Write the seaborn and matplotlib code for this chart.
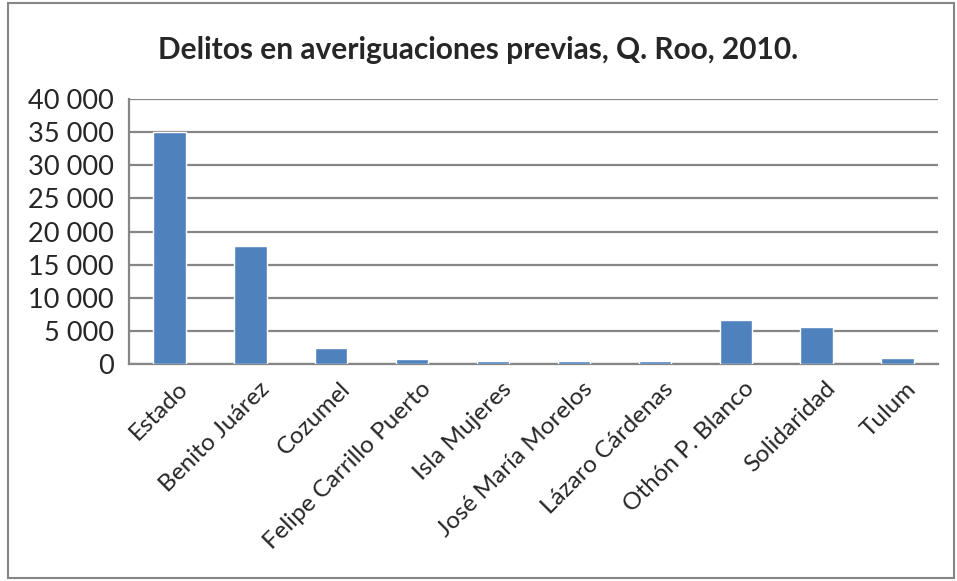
import matplotlib
matplotlib.use("Agg")
import matplotlib.pyplot as plt
import matplotlib.transforms as mtransforms
import seaborn as sns
import pandas as pd
from matplotlib.patches import Rectangle
from matplotlib.ticker import FuncFormatter

# Data
municipios = ["Estado", "Benito Juárez", "Cozumel", "Felipe Carrillo Puerto",
              "Isla Mujeres", "José María Morelos", "Lázaro Cárdenas",
              "Othón P. Blanco", "Solidaridad", "Tulum"]
delitos = [34950, 17800, 2400, 700, 500, 400, 400, 6650, 5550, 950]
y_ticks = [0, 5000, 10000, 15000, 20000, 25000, 30000, 35000, 40000]

df = pd.DataFrame({"municipio": municipios, "delitos": delitos})

sns.set_style("white")
plt.rcParams["font.family"] = ["Lato", "DejaVu Sans"]

fig = plt.figure(figsize=(9.57, 5.81), dpi=100)
ax = fig.add_axes([129 / 957, 1 - 364 / 581, (938 - 129) / 957, (364 - 99) / 581])

sns.barplot(data=df, x="municipio", y="delitos", color="#4F81BD",
            width=0.4, saturation=1, ax=ax, zorder=3)

grid_c = "#868686"
ax.set_ylim(0, 40000)
ax.set_xlim(-0.5, len(municipios) - 0.5)
ax.set_yticks(y_ticks)
ax.yaxis.set_major_formatter(FuncFormatter(lambda v, p: f"{int(v):,}".replace(",", " ")))
ax.yaxis.grid(True, color=grid_c, linewidth=1.6)
ax.set_axisbelow(True)

# category boundaries as ticks, labels at centres
ax.set_xticks([i - 0.5 for i in range(len(municipios) + 1)])
ax.set_xticklabels([])
ax.set_xticks(range(len(municipios)), minor=True)
ax.set_xticklabels(municipios, minor=True, rotation=45, ha="right",
                   rotation_mode="anchor", fontsize=17.5)
ax.tick_params(axis="x", which="minor", length=0, pad=10)
ax.tick_params(axis="x", which="major", length=7, width=1.6, color=grid_c, direction="out")
ax.tick_params(axis="y", length=7, width=1.6, color=grid_c, direction="out", labelsize=19.5, pad=4)

# nudge rotated labels a little to the right, like the reference
offset = mtransforms.ScaledTranslation(8 / 100, 0, fig.dpi_scale_trans)
for lbl in ax.get_xticklabels(minor=True):
    lbl.set_transform(lbl.get_transform() + offset)

for s in ["top", "right"]:
    ax.spines[s].set_visible(False)
for s in ["left", "bottom"]:
    ax.spines[s].set_color(grid_c)
    ax.spines[s].set_linewidth(1.6)
    ax.spines[s].set_zorder(2)

ax.set_xlabel("")
ax.set_ylabel("")

fig.text(0.5, 1 - 50 / 581, "Delitos en averiguaciones previas, Q. Roo, 2010.",
         ha="center", va="center", fontsize=21.5, fontweight="bold")

fig.patches.append(Rectangle((8 / 957, 3 / 581), 946 / 957, 575 / 581,
                             transform=fig.transFigure, fill=False,
                             edgecolor=grid_c, linewidth=1.5))

fig.savefig("out.png", dpi=100)
